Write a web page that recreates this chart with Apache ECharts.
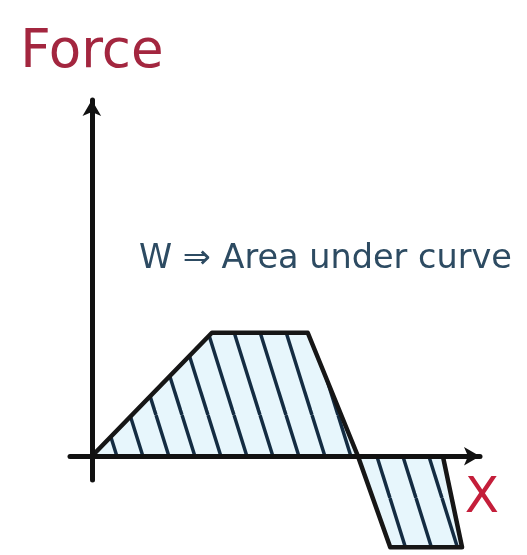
<!DOCTYPE html>
<html>
<head>
<meta charset="utf-8">
<script src="https://cdn.jsdelivr.net/npm/echarts@6/dist/echarts.min.js"></script>
<style>
html,body{margin:0;padding:0;background:#fff;}
#chart{width:527px;height:555px;}
</style>
</head>
<body>
<div id="chart"></div>
<script>
// Displacement (x) and force values of the sketched force–displacement curve
const displacement = [0, 4.95, 8.9, 10.97, 12.3, 15.26, 14.47];
const force        = [0, 5.2,  5.2, 0,    -3.83, -3.83, 0];
const xAxisName = 'X';
const yAxisName = 'Force';
const annotation = 'W \u21D2 Area under curve';

function makeHatch() {
  const w = 26, h = 83;
  const c = document.createElement('canvas');
  c.width = w; c.height = h;
  const ctx = c.getContext('2d');
  ctx.fillStyle = '#e7f6fc';
  ctx.fillRect(0, 0, w, h);
  ctx.strokeStyle = '#142c42';
  ctx.lineWidth = 3.5;
  [-w, 0, w].forEach(function (off) {
    ctx.beginPath();
    ctx.moveTo(off, 0);
    ctx.lineTo(off + w, h);
    ctx.stroke();
  });
  return c;
}

const chart = echarts.init(document.getElementById('chart'));
const pts = displacement.map(function (x, i) { return [x, force[i]]; });

chart.setOption({
  backgroundColor: '#ffffff',
  animation: false,
  title: {
    text: annotation,
    left: 134,
    top: 237,
    textStyle: {
      fontFamily: 'DejaVu Sans',
      fontSize: 33.5,
      fontWeight: 'normal',
      color: '#2d4b62'
    }
  },
  grid: { left: 70, right: 47, top: 100, bottom: 75, containLabel: false },
  xAxis: {
    type: 'value',
    z: 5,
    min: -0.9,
    max: 16,
    name: xAxisName,
    nameLocation: 'end',
    nameGap: 2,
    nameTextStyle: {
      fontFamily: 'DejaVu Sans',
      fontSize: 50,
      color: '#c41e3a',
      align: 'center',
      verticalAlign: 'top',
      padding: [18, 0, 0, 0]
    },
    axisLine: {
      onZero: true,
      symbol: ['none', 'arrow'],
      symbolSize: [14, 16],
      lineStyle: { color: '#111', width: 5 }
    },
    axisTick: { show: false },
    axisLabel: { show: false },
    splitLine: { show: false }
  },
  yAxis: {
    type: 'value',
    z: 5,
    min: -1,
    max: 15,
    name: yAxisName,
    nameLocation: 'end',
    nameGap: 20,
    nameTextStyle: {
      fontFamily: 'DejaVu Sans',
      fontSize: 53,
      color: '#a3263f',
      align: 'center'
    },
    axisLine: {
      onZero: true,
      symbol: ['none', 'arrow'],
      symbolSize: [14, 16],
      lineStyle: { color: '#111', width: 5 }
    },
    axisTick: { show: false },
    axisLabel: { show: false },
    splitLine: { show: false }
  },
  series: [{
    type: 'line',
    data: pts,
    clip: false,
    symbol: 'none',
    lineStyle: { color: '#161616', width: 4.5, cap: 'round', join: 'round' },
    areaStyle: { color: { image: makeHatch(), repeat: 'repeat' }, opacity: 1 },
    z: 1
  }]
});
</script>
</body>
</html>
